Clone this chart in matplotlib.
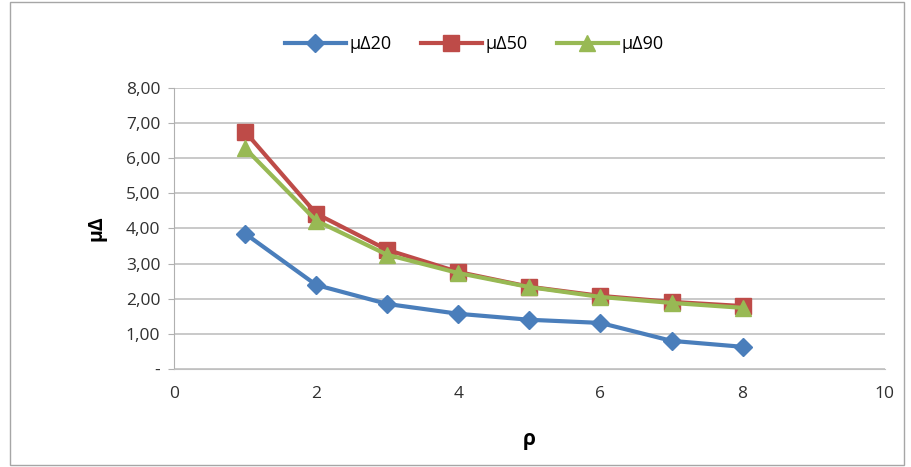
import matplotlib.pyplot as plt
from matplotlib.ticker import FuncFormatter

# rho values and the three mu-delta series
rho = [1, 2, 3, 4, 5, 6, 7, 8]
mu20 = [3.85, 2.39, 1.85, 1.57, 1.40, 1.31, 0.80, 0.63]
mu50 = [6.75, 4.42, 3.39, 2.76, 2.34, 2.08, 1.91, 1.79]
mu90 = [6.28, 4.22, 3.25, 2.73, 2.33, 2.05, 1.88, 1.74]

plt.rcParams['font.family'] = ['Open Sans', 'DejaVu Sans']

fig = plt.figure(figsize=(9.12, 4.67), dpi=100)
ax = fig.add_axes([0.191, 0.21, 0.779, 0.6016])

# outer chart border
fig.patches.append(plt.Rectangle((0.011, 0.004), 0.98, 0.992, transform=fig.transFigure,
                                 fill=False, edgecolor='#a6a6a6', linewidth=1))

ax.plot(rho, mu20, color='#4a7ebb', lw=3, marker='D', ms=9, label='μΔ20', zorder=3)
ax.plot(rho, mu50, color='#be4b48', lw=3, marker='s', ms=11, label='μΔ50', zorder=3)
ax.plot(rho, mu90, color='#98b954', lw=3, marker='^', ms=11, label='μΔ90', zorder=4)

ax.set_xlim(0, 10)
ax.set_ylim(0, 8)
ax.set_xticks(range(0, 11, 2))
ax.set_yticks(range(0, 9))
ax.yaxis.set_major_formatter(FuncFormatter(lambda v, p: '-' if v == 0 else ('%.2f' % v).replace('.', ',')))

ax.grid(axis='y', color='#c0c0c0', lw=1.2)
ax.set_axisbelow(True)
for s in ['top', 'right']:
    ax.spines[s].set_visible(False)
ax.spines['left'].set_color('#b0b0b0')
ax.spines['bottom'].set_color('#c0c0c0')
ax.tick_params(axis='y', length=4, color='#b0b0b0', labelsize=12.5, labelcolor='#303030', pad=6)
ax.tick_params(axis='x', length=0, labelsize=12.5, labelcolor='#303030', pad=12)

ax.set_xlabel('ρ', fontsize=15, fontweight='bold', labelpad=20)
ax.set_ylabel('μΔ', fontsize=14, fontweight='bold', labelpad=14)

fig.legend(loc='center', bbox_to_anchor=(0.52, 0.905), ncol=3, frameon=False,
           fontsize=13, handlelength=3.4, columnspacing=1.6, handletextpad=0.2)

fig.savefig('out.png', dpi=100)
